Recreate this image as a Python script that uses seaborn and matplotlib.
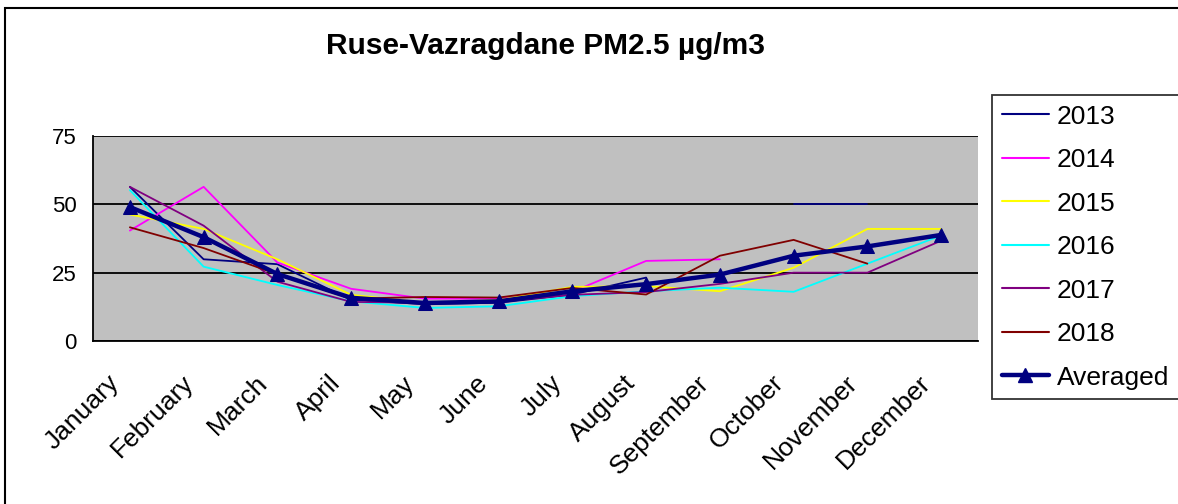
import numpy as np
import pandas as pd
import matplotlib
matplotlib.use("Agg")
import matplotlib.pyplot as plt
import matplotlib.transforms as mtransforms
from matplotlib.lines import Line2D
from matplotlib.patches import Rectangle
import seaborn as sns

months = ['January', 'February', 'March', 'April', 'May', 'June', 'July',
          'August', 'September', 'October', 'November', 'December']
nan = np.nan
y2013 = [56.4, 29.9, 28.1, 15.0, 13.5, 14.0, 17.0, 23.2, nan, 50.0, 50.0, nan]
y2014 = [40.4, 56.4, 28.7, 19.1, 15.5, 15.5, 18.0, 29.3, 29.9, nan, nan, nan]
y2015 = [46.3, 41.0, 29.9, 16.9, 14.0, 15.0, 19.8, 20.1, 18.2, 26.8, 41.0, 41.0]
y2016 = [55.2, 27.2, 20.5, 14.5, 12.1, 12.7, 16.4, 18.2, 19.5, 18.0, 28.3, 38.6]
y2017 = [56.4, 42.2, 21.7, 14.3, 14.0, 14.5, 16.9, 17.9, 20.9, 25.0, 25.0, 36.7]
y2018 = [41.6, 34.0, 24.4, 15.5, 16.1, 15.9, 19.4, 17.0, 31.2, 37.0, 28.3, nan]
averaged = [49.0, 38.0, 24.5, 15.8, 13.9, 14.5, 18.2, 20.8, 24.3, 31.2, 34.6, 38.8]

years = ['2013', '2014', '2015', '2016', '2017', '2018']
series = [y2013, y2014, y2015, y2016, y2017, y2018]
colors = ['#000080', '#FF00FF', '#FFFF00', '#00FFFF', '#800080', '#800000']

# long table, each unbroken run gets its own unit so gaps stay gaps
rows = []
for yr, vals in zip(years, series):
    seg = 0
    for i, v in enumerate(vals):
        if np.isnan(v):
            seg += 1
            continue
        rows.append({'month': i, 'value': v, 'year': yr, 'seg': yr + '_' + str(seg)})
df = pd.DataFrame(rows)
avg_df = pd.DataFrame({'month': range(12), 'value': averaged})

sns.set_style('white')
plt.rcParams['font.family'] = ['Liberation Sans', 'DejaVu Sans']
plt.rcParams['text.color'] = 'black'
plt.rcParams['xtick.color'] = 'black'
plt.rcParams['ytick.color'] = 'black'

fig = plt.figure(figsize=(11.78, 5.04), dpi=100)
ax = fig.add_axes([93 / 1178, 1 - 341 / 504, (978 - 93) / 1178, (341 - 136) / 504])
ax.set_facecolor('#C0C0C0')

sns.lineplot(data=df, x='month', y='value', hue='year', units='seg',
             estimator=None, palette=dict(zip(years, colors)), linewidth=1.3,
             legend=False, ax=ax, sort=True)
sns.lineplot(data=avg_df, x='month', y='value', color='#000080', linewidth=3.2,
             marker='^', markersize=10, markeredgecolor='#000080', ax=ax, zorder=5)

ax.set_xlim(-0.5, 11.5)
ax.set_ylim(0, 75)
ax.set_yticks([0, 25, 50, 75])
ax.grid(axis='y', color='black', linewidth=1.3)
ax.grid(axis='x', visible=False)
ax.set_xticks(range(12))
ax.set_xticklabels(months, rotation=45, ha='right', va='center',
                   rotation_mode='anchor', fontsize=19)
ax.set_xticks(np.arange(-0.5, 12, 1), minor=True)
ax.tick_params(axis='x', which='major', length=0, pad=27.5)
ax.tick_params(axis='x', which='minor', length=6, width=1.2, color='black', direction='out')
ax.tick_params(axis='y', length=6, width=1.2, color='black', direction='out', labelsize=16, pad=6)
shift = mtransforms.ScaledTranslation(-14 / 100, 0, fig.dpi_scale_trans)
for lab in ax.get_xticklabels():
    lab.set_transform(lab.get_transform() + shift)
ax.set_xlabel('')
ax.set_ylabel('')
for side in ['top', 'right']:
    ax.spines[side].set_visible(False)
for side in ['left', 'bottom']:
    ax.spines[side].set_color('black')
    ax.spines[side].set_linewidth(1.3)

fig.text(546 / 1178, 1 - 46 / 504, 'Ruse-Vazragdane PM2.5 µg/m3', ha='center', va='center',
         fontsize=21.5, fontweight='bold')

handles = [Line2D([], [], color=c, linewidth=1.5) for c in colors]
handles.append(Line2D([], [], color='#000080', linewidth=3.2, marker='^', markersize=10))
leg = fig.legend(handles, years + ['Averaged'], loc='upper left',
                 bbox_to_anchor=(992 / 1178, 1 - 95 / 504), fontsize=19,
                 frameon=True, fancybox=False, edgecolor='black', handlelength=1.8,
                 labelspacing=0.74, borderpad=0.36, handletextpad=0.3, borderaxespad=0)
leg.get_frame().set_linewidth(1.3)

fig.patches.append(Rectangle((5 / 1178, -0.1), 1.2, 1.1 - 8 / 504, transform=fig.transFigure,
                             fill=False, edgecolor='black', linewidth=1.5))

fig.savefig('out.png', dpi=100)
